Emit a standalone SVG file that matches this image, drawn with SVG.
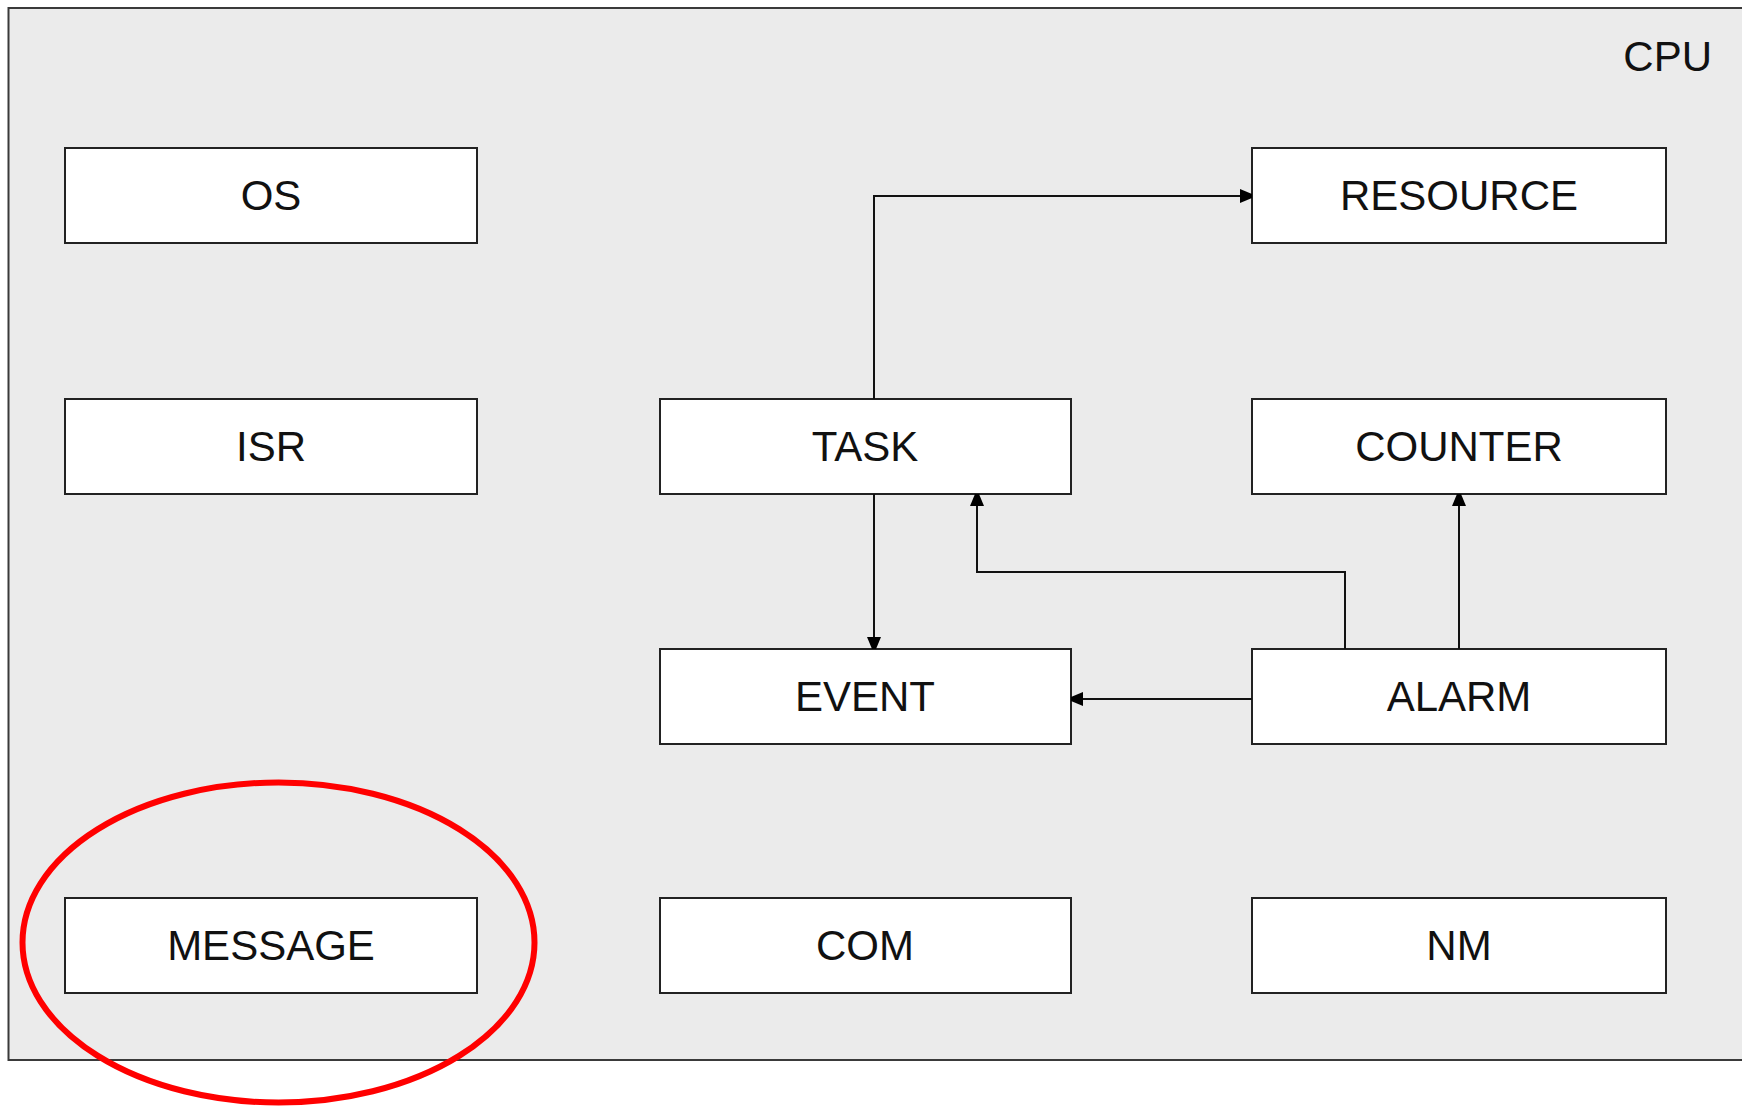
<svg xmlns="http://www.w3.org/2000/svg" width="1742" height="1106" viewBox="0 0 1742 1106">
<style>
.frame{fill:#ebebeb;stroke:#3a3a3a;stroke-width:2}
.box{fill:#ffffff;stroke:#222;stroke-width:2}
.lbl{font-family:"Liberation Sans",Arial,sans-serif;font-size:42px;fill:#111;text-anchor:middle}
.conn{fill:none;stroke:#111;stroke-width:2}
</style>
<defs>
<marker id="arr" viewBox="0 0 12 14" refX="12" refY="7" markerWidth="12" markerHeight="14" markerUnits="userSpaceOnUse" orient="auto">
<path d="M0,0 L12,5 L12,9 L0,14 Z" fill="#000"/>
</marker>
</defs>
<rect width="1742" height="1106" fill="#ffffff"/>
<g id="cpu">
<rect class="frame" x="8.5" y="8" width="1745" height="1052"/>
<text x="1712" y="71" font-family="'Liberation Sans',Arial,sans-serif" font-size="42" fill="#111" text-anchor="end">CPU</text>
</g>
<g id="os"><rect class="box" x="65" y="148" width="412" height="95"/><text class="lbl" x="271" y="210">OS</text></g>
<g id="isr"><rect class="box" x="65" y="399" width="412" height="95"/><text class="lbl" x="271" y="461">ISR</text></g>
<g id="message"><rect class="box" x="65" y="898" width="412" height="95"/><text class="lbl" x="271" y="960">MESSAGE</text></g>
<g id="task"><rect class="box" x="660" y="399" width="411" height="95"/><text class="lbl" x="865" y="461">TASK</text></g>
<g id="event"><rect class="box" x="660" y="649" width="411" height="95"/><text class="lbl" x="865" y="711">EVENT</text></g>
<g id="com"><rect class="box" x="660" y="898" width="411" height="95"/><text class="lbl" x="865" y="960">COM</text></g>
<g id="resource"><rect class="box" x="1252" y="148" width="414" height="95"/><text class="lbl" x="1459" y="210">RESOURCE</text></g>
<g id="counter"><rect class="box" x="1252" y="399" width="414" height="95"/><text class="lbl" x="1459" y="461">COUNTER</text></g>
<g id="alarm"><rect class="box" x="1252" y="649" width="414" height="95"/><text class="lbl" x="1459" y="711">ALARM</text></g>
<g id="nm"><rect class="box" x="1252" y="898" width="414" height="95"/><text class="lbl" x="1459" y="960">NM</text></g>
<g id="connectors">
<path class="conn" d="M874,399 V196 H1252" marker-end="url(#arr)"/>
<path class="conn" d="M874,494 V649" marker-end="url(#arr)"/>
<path class="conn" d="M1345,649 V572 H977 V494" marker-end="url(#arr)"/>
<path class="conn" d="M1459,649 V494" marker-end="url(#arr)"/>
<path class="conn" d="M1252,699 H1071" marker-end="url(#arr)"/>
</g>
<ellipse id="highlight" cx="278.5" cy="942.5" rx="256" ry="160" fill="none" stroke="#ff0000" stroke-width="6"/>
</svg>
